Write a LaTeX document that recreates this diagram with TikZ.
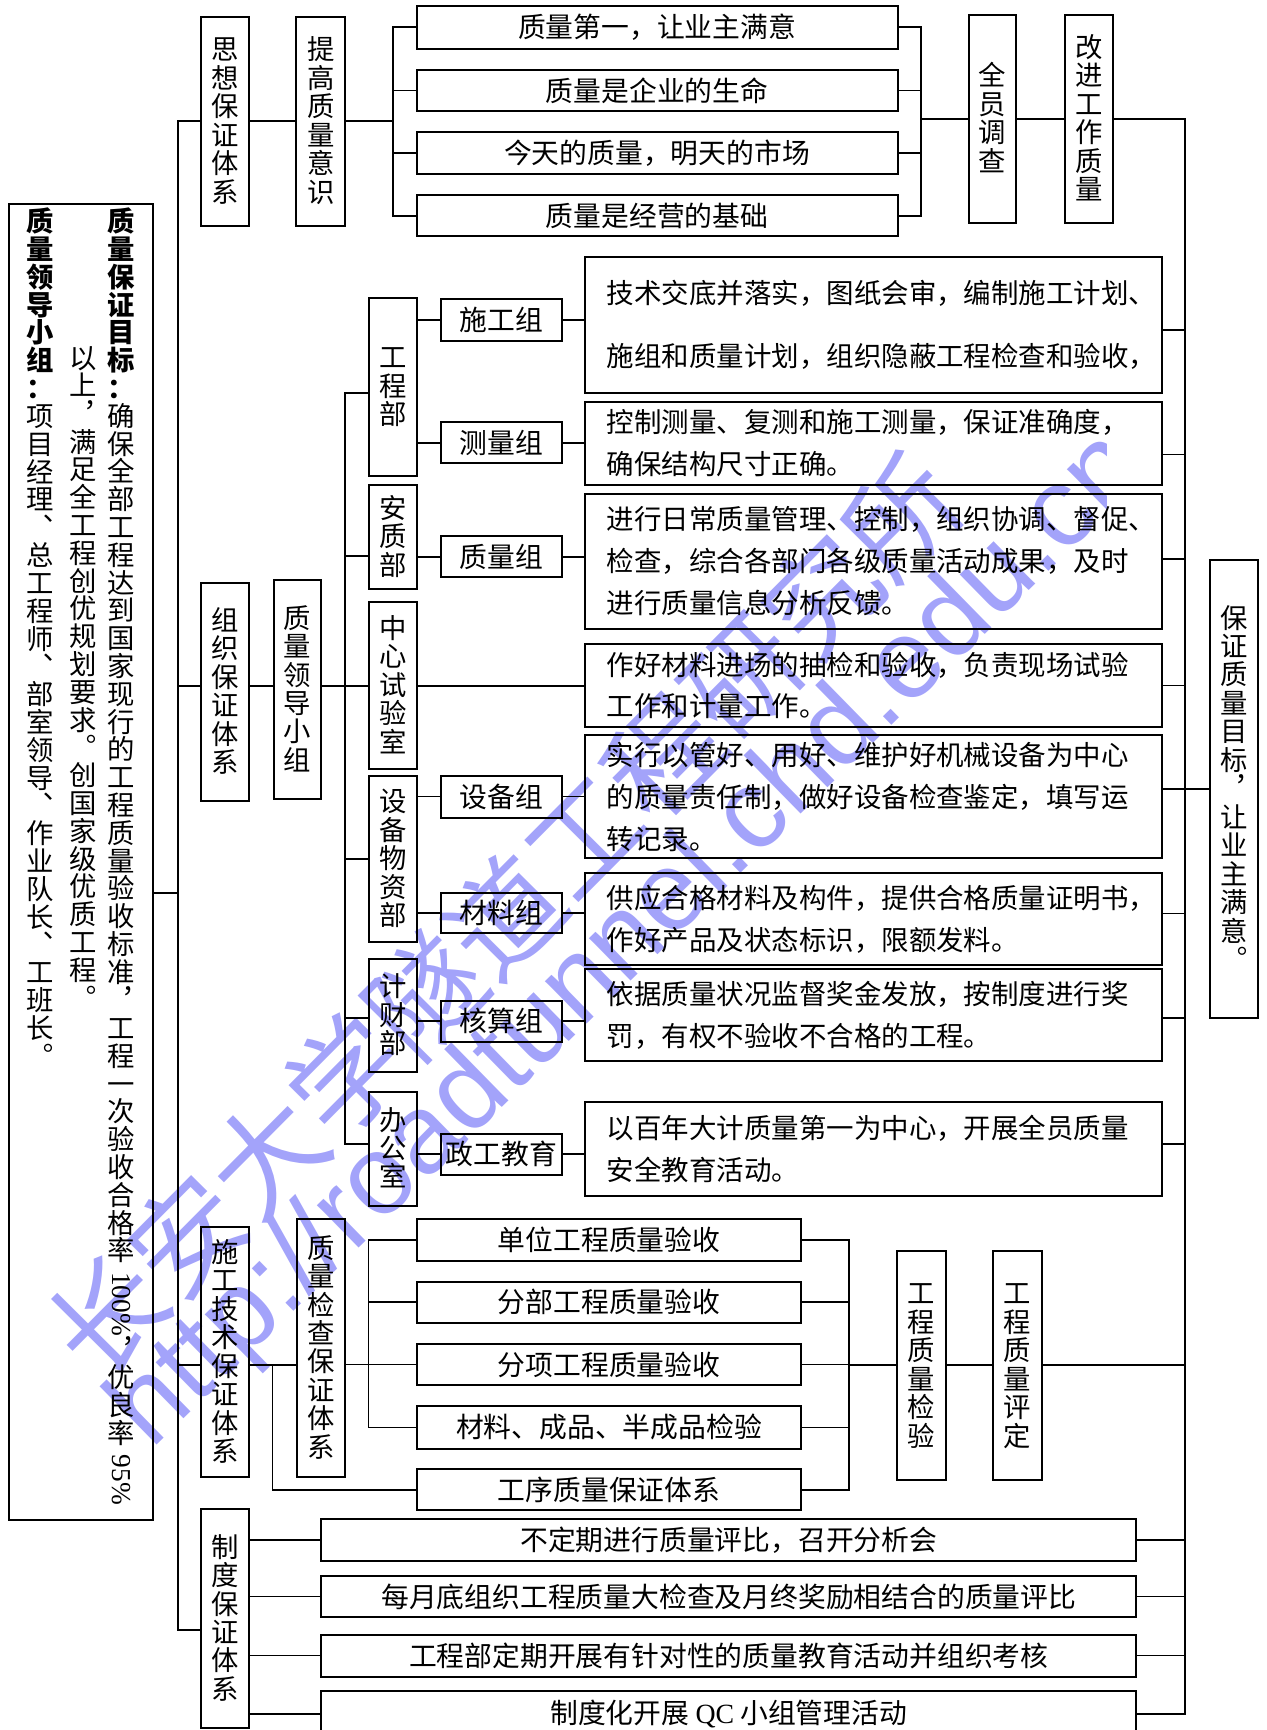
\documentclass[tikz,border=0pt]{standalone}
\usepackage{fontspec}
\setmainfont{Liberation Serif}
\newfontfamily\cjk{Noto Sans CJK SC}
\newfontfamily\wmlat{Liberation Sans}
\usepackage{graphicx}
\usetikzlibrary{calc}
\definecolor{wmblue}{RGB}{163,163,250}
\makeatletter
\newdimen\vtp \vtp=12.9pt
\def\vtlines#1{\@tfor\vt@c:=#1\do{\hbox to\vtp{\hss\vrule width\z@ height.84\vtp depth.16\vtp\relax\vt@c\hss}}}
\newcommand\vst[1]{\vbox{\offinterlineskip\vtlines{#1}}}
\makeatother
\newcommand\fbx{\cjk\fontsize{12.6pt}{15pt}\selectfont}
\newcommand\fvt{\cjk\fontsize{12.4pt}{15pt}\selectfont}
\newcommand\fds{\cjk\fontsize{12.45pt}{19pt}\selectfont}
\newcommand\rotlat[1]{\raisebox{.84\vtp}{\rotatebox{-90}{\rmfamily\ #1}}}
\newcommand\rc[2]{\path ([yshift=#2]#1.east) coordinate (#1r); \draw[ln] (#1r) -- (#1r -| rs);}
\hbadness=10000 \hfuzz=20pt
\begin{document}
\begin{tikzpicture}[x=0.5pt,y=-0.5pt,
  bx/.style={draw, line width=0.9pt, inner sep=0pt, outer sep=0pt, rectangle},
  geo/.style n args={4}{at={({(#1+#3)/2},{(#2+#4)/2})}, minimum width={(#3-#1)*0.5pt}, minimum height={(#4-#2)*0.5pt}},
  ln/.style={line width=0.8pt},
  hb/.style={bx, font=\fbx},
  vb/.style={bx, font=\fvt},
  ds/.style={bx, font=\fds, align=left, text width=241.5pt},
  wmc/.style={inner sep=0pt, text=wmblue, font=\cjk\fontsize{51pt}{51pt}\selectfont}]
\useasboundingbox (0,0) rectangle (1148,1568);
\clip (0,0) rectangle (1148,1568);

% watermark
\begin{scope}
\clip (0,0) rectangle (1003,1568);
\node[wmc, rotate=45.2] (wm1) at (457,830) {长安大学隧道工程研究所};
\node[wmc, font=\wmlat\fontsize{51pt}{51pt}\selectfont, rotate=44.4] (wm2) at (571,853) {http://roadtunnel.chd.edu.cn};
\end{scope}

\coordinate (ms) at (161,0);
\coordinate (rs) at (1074,0);
\coordinate (ss) at (313,0);
\coordinate (tb) at (356,0);
\coordinate (tr) at (834.6,0);
\coordinate (bb) at (247,0);
\coordinate (bl) at (334,0);
\coordinate (br) at (769.6,0);

% left big box
\node[bx, geo={8.3}{185}{139}{1378}] (LB) {};
\node[anchor=north, inner sep=0pt, font=\fvt] (c1) at (110,188) {\vtp=12.6pt\relax\vbox{\offinterlineskip\bfseries\vtlines{质量保证目标：}\mdseries\vtlines{确保全部工程达到国家现行的工程质量验收标准︐工程一次验收合格率{\rotlat{100\%}}︐优良率{\rotlat{95\%}}}}};
\node[anchor=north, inner sep=0pt, font=\fvt] (c2) at (75,312) {\vtp=12.6pt\relax\vbox{\offinterlineskip\vtlines{以上︐满足全工程创优规划要求︒创国家级优质工程︒}}};
\node[anchor=north, inner sep=0pt, font=\fvt] (c3) at (36,188) {\vtp=12.6pt\relax\vbox{\offinterlineskip\bfseries\vtlines{质量领导小组：}\mdseries\vtlines{项目经理︑总工程师︑部室领导︑作业队长︑工班长︒}}};

% top section
\node[vb, geo={182}{15}{226}{205}] (A) {\vst{思想保证体系}};
\node[vb, geo={268.6}{15}{313}{205}] (B) {\vst{提高质量意识}};
\node[hb, geo={377.5}{5.5}{813.5}{44}] (T1) {质量第一，让业主满意};
\node[hb, geo={377.5}{63}{813.5}{101}] (T2) {质量是企业的生命};
\node[hb, geo={377.5}{120}{813.5}{157.5}] (T3) {今天的质量，明天的市场};
\node[hb, geo={377.5}{177}{813.5}{214}] (T4) {质量是经营的基础};
\node[vb, geo={878}{13.5}{921}{202}] (QY) {\vst{全员调查}};
\node[vb, geo={965}{13.5}{1009}{202}] (GJ) {\vst{改进工作质量}};

% middle section
\node[vb, geo={182}{528}{226}{726}] (ZZ) {\vst{组织保证体系}};
\node[vb, geo={248}{526}{291}{724}] (LD) {\vst{质量领导小组}};
\node[vb, geo={334}{270}{378}{431}] (GC) {\vst{工程部}};
\node[vb, geo={334}{439.5}{378}{534}] (AZ) {\vst{安质部}};
\node[vb, geo={334}{546}{378}{697}] (ZX) {\vst{中心试验室}};
\node[vb, geo={334}{703}{378}{854}] (SB) {\vst{设备物资部}};
\node[vb, geo={334}{869}{378}{972}] (JC) {\vst{计财部}};
\node[vb, geo={334}{989.5}{378}{1093}] (BG) {\vst{办公室}};
\node[hb, geo={400}{271}{509}{309}] (G1) {施工组};
\node[hb, geo={400}{382.5}{509}{420}] (G2) {测量组};
\node[hb, geo={400}{486}{509}{523}] (G3) {质量组};
\node[hb, geo={400}{703}{509}{741}] (G5) {设备组};
\node[hb, geo={400}{809}{509}{846}] (G6) {材料组};
\node[hb, geo={400}{907}{509}{944}] (G7) {核算组};
\node[hb, geo={400}{1027.5}{509}{1065}] (G8) {政工教育};
\node[ds, font=\cjk\fontsize{12.45pt}{28.5pt}\selectfont, geo={530}{233}{1053}{356}] (D1) {技术交底并落实，图纸会审，编制施工计划、\\施组和质量计划，组织隐蔽工程检查和验收，};
\node[ds, geo={530}{364}{1053}{439.5}] (D2) {控制测量、复测和施工测量，保证准确度，\\确保结构尺寸正确。};
\node[ds, geo={530}{447.5}{1053}{570}] (D3) {进行日常质量管理、控制，组织协调、督促、\\检查，综合各部门各级质量活动成果，及时\\进行质量信息分析反馈。};
\node[ds, geo={530}{583.5}{1053}{659}] (D4) {作好材料进场的抽检和验收，负责现场试验\\工作和计量工作。};
\node[ds, geo={530}{666}{1053}{778}] (D5) {实行以管好、用好、维护好机械设备为中心\\的质量责任制，做好设备检查鉴定，填写运\\转记录。};
\node[ds, geo={530}{791}{1053}{875}] (D6) {供应合格材料及构件，提供合格质量证明书，\\作好产品及状态标识，限额发料。};
\node[ds, geo={530}{878}{1053}{962}] (D7) {依据质量状况监督奖金发放，按制度进行奖\\罚，有权不验收不合格的工程。};
\node[ds, geo={530}{999}{1053}{1084}] (D8) {以百年大计质量第一为中心，开展全员质量\\安全教育活动。};
\node[vb, geo={1097}{507.5}{1140}{923}] (PM) {\vst{保证质量目标︐让业主满意︒}};

% bottom section
\node[vb, geo={182}{1112.5}{226}{1339}] (SJ) {\vst{施工技术保证体系}};
\node[vb, geo={269}{1104.6}{313}{1339}] (ZJ) {\vst{质量检查保证体系}};
\node[hb, geo={378}{1105}{726}{1142.5}] (U1) {单位工程质量验收};
\node[hb, geo={378}{1161.5}{726}{1199}] (U2) {分部工程质量验收};
\node[hb, geo={378}{1218}{726}{1255.5}] (U3) {分项工程质量验收};
\node[hb, geo={378}{1274.5}{726}{1313}] (U4) {材料、成品、半成品检验};
\node[hb, geo={378}{1331.5}{726}{1369}] (U5) {工序质量保证体系};
\node[vb, geo={813}{1134}{857}{1341}] (JY) {\vst{工程质量检验}};
\node[vb, geo={900}{1134}{944}{1341}] (PD) {\vst{工程质量评定}};
\node[vb, geo={182}{1368}{226}{1566}] (ZD) {\vst{制度保证体系}};
\node[hb, geo={291}{1377}{1030}{1415}] (R1) {不定期进行质量评比，召开分析会};
\node[hb, geo={291}{1428}{1030}{1466}] (R2) {每月底组织工程质量大检查及月终奖励相结合的质量评比};
\node[hb, geo={291}{1481.5}{1030}{1519.5}] (R3) {工程部定期开展有针对性的质量教育活动并组织考核};
\node[hb, geo={291}{1532.6}{1030}{1574}] (R4) {制度化开展 {\rmfamily QC} 小组管理活动};

% ---------- connectors ----------
% main spine
\path ([yshift=-14pt]LB.east) coordinate (LBc);
\path ([yshift=-5.6pt]SJ.west) coordinate (SJc);
\path ([yshift=-5pt]ZD.west) coordinate (ZDc);
\draw[ln] (A.west) -- (A.west -| ms) -- (ZDc -| ms) -- (ZDc);
\draw[ln] (LBc) -- (LBc -| ms);
\draw[ln] (ms |- ZX.west) -- (ZZ.west |- ZX.west);
\draw[ln] (SJc -| ms) -- (SJc);

% top
\draw[ln] (A.east) -- (B.west);
\draw[ln] (B.east) -- (B.east -| tb);
\draw[ln] (T1.west) -- (T1.west -| tb) -- (T4.west -| tb) -- (T4.west);
\draw[ln] (T2.west -| tb) -- (T2.west);
\draw[ln] (T3.west -| tb) -- (T3.west);
\draw[ln] (T1.east) -- (T1.east -| tr) -- (T4.east -| tr) -- (T4.east);
\draw[ln] (T2.east) -- (T2.east -| tr);
\draw[ln] (T3.east) -- (T3.east -| tr);
\draw[ln] (QY.west -| tr) -- (QY.west);
\draw[ln] (QY.east) -- (GJ.west);

% right spine
\draw[ln] (GJ.east) -- (GJ.east -| rs) -- (R4.east -| rs) -- (R4.east);
\draw[ln] (PM.west -| rs) -- (PM.west);
\rc{D1}{-2.25pt}
\rc{D2}{-5.1pt}
\rc{D3}{0.9pt}
\rc{D4}{0pt}
\rc{D5}{3.5pt}
\rc{D6}{2.5pt}
\rc{D7}{-1.5pt}
\rc{D8}{2.25pt}
\draw[ln] (PD.east) -- (PD.east -| rs);
\draw[ln] (R1.east) -- (R1.east -| rs);
\draw[ln] (R2.east) -- (R2.east -| rs);
\draw[ln] (R3.east) -- (R3.east -| rs);

% organisation
\draw[ln] (ZZ.east |- ZX.west) -- (LD.west |- ZX.west);
\draw[ln] (LD.east |- ZX.west) -- (ZX.west);
\path ([yshift=-2.75pt]GC.west) coordinate (GCc);
\path ([yshift=-8.6pt]AZ.west) coordinate (AZc);
\path ([yshift=-1pt]JC.west) coordinate (JCc);
\path ([yshift=2.25pt]BG.west) coordinate (BGc);
\draw[ln] (GCc) -- (GCc -| ss) -- (BGc -| ss) -- (BGc);
\draw[ln] (AZc -| ss) -- (AZc);
\draw[ln] (SB.west -| ss) -- (SB.west);
\draw[ln] (JCc -| ss) -- (JCc);
\draw[ln] (G1.west -| GC.east) -- (G1.west);
\draw[ln] (G2.west -| GC.east) -- (G2.west);
\draw[ln] (G3.west -| AZ.east) -- (G3.west);
\draw[ln] (G5.west -| SB.east) -- (G5.west);
\draw[ln] (G6.west -| SB.east) -- (G6.west);
\draw[ln] (G7.west -| JC.east) -- (G7.west);
\draw[ln] (G8.west -| BG.east) -- (G8.west);
\draw[ln] (G1.east) -- (G1.east -| D1.west);
\draw[ln] (G2.east) -- (G2.east -| D2.west);
\draw[ln] (G3.east) -- (G3.east -| D3.west);
\draw[ln] (ZX.east) -- (ZX.east -| D4.west);
\draw[ln] (G5.east) -- (G5.east -| D5.west);
\draw[ln] (G6.east) -- (G6.east -| D6.west);
\draw[ln] (G7.east) -- (G7.east -| D7.west);
\draw[ln] (G8.east) -- (G8.east -| D8.west);

% construction technique
\path ([yshift=-5.6pt]SJ.east) coordinate (SJe);
\draw[ln] (SJe) -- (SJe -| ZJ.west);
\draw[ln] (SJe -| bb) -- (U5.west -| bb) -- (U5.west);
\draw[ln] (ZJ.east |- U3.west) -- (U3.west);
\draw[ln] (U1.west) -- (U1.west -| bl) -- (U4.west -| bl) -- (U4.west);
\draw[ln] (U2.west -| bl) -- (U2.west);
\draw[ln] (U1.east) -- (U1.east -| br) -- (U5.east -| br) -- (U5.east);
\draw[ln] (U2.east) -- (U2.east -| br);
\draw[ln] (U3.east) -- (U3.east -| br);
\draw[ln] (U4.east) -- (U4.east -| br);
\draw[ln] (JY.west -| br) -- (JY.west);
\draw[ln] (JY.east) -- (PD.west);

% system rules
\draw[ln] (R1.west -| ZD.east) -- (R1.west);
\draw[ln] (R2.west -| ZD.east) -- (R2.west);
\draw[ln] (R3.west -| ZD.east) -- (R3.west);
\draw[ln] (R4.west -| ZD.east) -- (R4.west);
\end{tikzpicture}
\end{document}
